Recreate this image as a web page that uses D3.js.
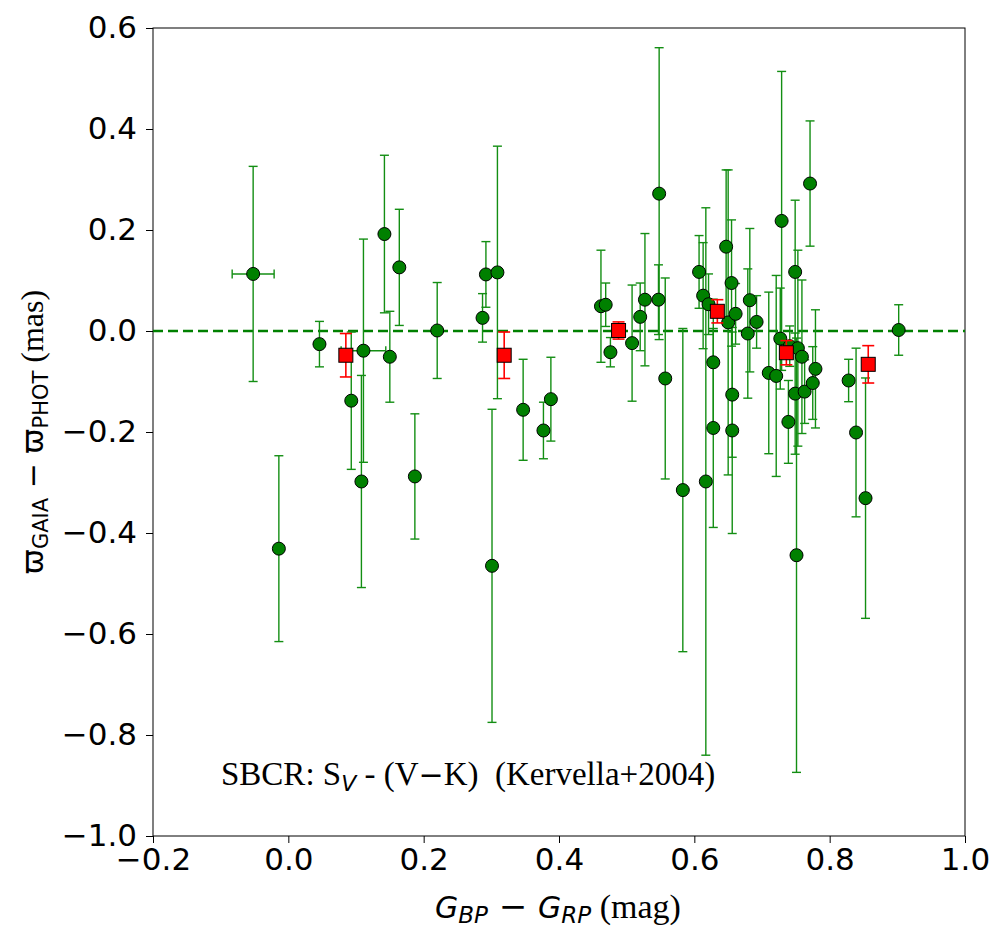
<!DOCTYPE html>
<html>
<head>
<meta charset="utf-8">
<script src="https://cdn.jsdelivr.net/npm/d3@7"></script>
<style>
  body { margin: 0; background: #fff; }
  svg { display: block; }
</style>
</head>
<body>
<svg id="chart"></svg>
<script>
// green points: colour index, parallax difference, error
const starX = [-0.052, -0.014, 0.046, 0.093, 0.108, 0.111, 0.142, 0.150, 0.164, 0.187,
  0.220, 0.287, 0.292, 0.301, 0.309, 0.347, 0.377, 0.388, 0.462, 0.469,
  0.476, 0.508, 0.520, 0.527, 0.547, 0.548, 0.557, 0.583, 0.607, 0.613,
  0.617, 0.621, 0.628, 0.628, 0.647, 0.650, 0.655, 0.656, 0.656, 0.661,
  0.679, 0.682, 0.692, 0.710, 0.721, 0.727, 0.729, 0.739, 0.741, 0.749,
  0.749, 0.751, 0.753, 0.759, 0.763, 0.771, 0.775, 0.779, 0.828, 0.839,
  0.853, 0.902];
const starY = [0.113, -0.431, -0.026, -0.138, -0.298, -0.039, 0.192, -0.051, 0.126, -0.288,
  0.001, 0.026, 0.112, -0.465, 0.116, -0.156, -0.197, -0.135, 0.049, 0.052,
  -0.042, -0.024, 0.028, 0.062, 0.062, 0.272, -0.094, -0.315, 0.117, 0.070,
  -0.298, 0.053, -0.062, -0.192, 0.167, 0.017, 0.095, -0.126, -0.197, 0.034,
  -0.005, 0.061, 0.018, -0.083, -0.089, -0.015, 0.218, -0.180, -0.030, 0.117,
  -0.124, -0.444, -0.034, -0.051, -0.120, 0.292, -0.103, -0.075, -0.098, -0.201,
  -0.331, 0.002];
const starYErr = [0.213, 0.184, 0.045, 0.136, 0.21, 0.221, 0.156, 0.09, 0.115, 0.124,
  0.095, 0.048, 0.065, 0.31, 0.25, 0.1, 0.056, 0.083, 0.111, 0.043,
  0.029, 0.115, 0.067, 0.131, 0.069, 0.289, 0.199, 0.32, 0.072, 0.105,
  0.542, 0.06, 0.125, 0.197, 0.152, 0.302, 0.125, 0.124, 0.204, 0.06,
  0.128, 0.142, 0.052, 0.16, 0.199, 0.1, 0.296, 0.082, 0.04, 0.142,
  0.12, 0.43, 0.194, 0.152, 0.063, 0.124, 0.072, 0.117, 0.042, 0.167,
  0.238, 0.05];
// only two stars have a visible colour error
const starXErr = {0: 0.031, 5: 0.033};

// red squares (binned means)
const binX = [0.085, 0.319, 0.488, 0.634, 0.736, 0.857];
const binY = [-0.048, -0.048, 0.001, 0.039, -0.043, -0.066];
const binErr = [0.043, 0.046, 0.017, 0.023, 0.024, 0.037];

const xTicks = [-0.2, 0.0, 0.2, 0.4, 0.6, 0.8, 1.0];
const yTicks = [-1.0, -0.8, -0.6, -0.4, -0.2, 0.0, 0.2, 0.4, 0.6];

const width = 1007, height = 944;
const mLeft = 153, mRight = 965, mTop = 28, mBottom = 836;

const svg = d3.select('#chart').attr('width', width).attr('height', height);

const x = d3.scaleLinear().domain([-0.2, 1.0]).range([mLeft, mRight]);
const y = d3.scaleLinear().domain([-1.0, 0.6]).range([mBottom, mTop]);

const fmt = d => d3.format('.1f')(d).replace('-', '\u2212');

// axes
const xAxis = svg.append('g')
  .attr('transform', `translate(0,${mBottom})`)
  .call(d3.axisBottom(x).tickValues(xTicks).tickFormat(fmt).tickSize(7).tickSizeOuter(0).tickPadding(5));
const yAxis = svg.append('g')
  .attr('transform', `translate(${mLeft},0)`)
  .call(d3.axisLeft(y).tickValues(yTicks).tickFormat(fmt).tickSize(7).tickSizeOuter(0).tickPadding(9));

[xAxis, yAxis].forEach(g => {
  g.select('.domain').remove();
  g.selectAll('line').attr('stroke', '#000').attr('stroke-width', 1);
  g.selectAll('text').attr('font-family', 'DejaVu Sans').attr('font-size', 31).attr('fill', '#000');
});

// frame
svg.append('rect')
  .attr('x', mLeft).attr('y', mTop)
  .attr('width', mRight - mLeft).attr('height', mBottom - mTop)
  .attr('fill', 'none').attr('stroke', '#000').attr('stroke-width', 1);

const plot = svg.append('g');

// zero line
plot.append('line')
  .attr('x1', x(-0.2)).attr('x2', x(1.0))
  .attr('y1', y(0)).attr('y2', y(0))
  .attr('stroke', '#008000').attr('stroke-width', 2.5)
  .attr('stroke-dasharray', '10,5');

const green = '#138e13';
const stars = starX.map((d, i) => ({x: d, y: starY[i], e: starYErr[i], xe: starXErr[i] || 0}));

// green error bars
const cap = 4.5;
stars.forEach(d => {
  const g = plot.append('g').attr('stroke', green).attr('stroke-width', 1.4);
  g.append('line').attr('x1', x(d.x)).attr('x2', x(d.x)).attr('y1', y(d.y - d.e)).attr('y2', y(d.y + d.e));
  g.append('line').attr('x1', x(d.x) - cap).attr('x2', x(d.x) + cap).attr('y1', y(d.y - d.e)).attr('y2', y(d.y - d.e));
  g.append('line').attr('x1', x(d.x) - cap).attr('x2', x(d.x) + cap).attr('y1', y(d.y + d.e)).attr('y2', y(d.y + d.e));
  if (d.xe) {
    g.append('line').attr('x1', x(d.x - d.xe)).attr('x2', x(d.x + d.xe)).attr('y1', y(d.y)).attr('y2', y(d.y));
    g.append('line').attr('x1', x(d.x - d.xe)).attr('x2', x(d.x - d.xe)).attr('y1', y(d.y) - cap).attr('y2', y(d.y) + cap);
    g.append('line').attr('x1', x(d.x + d.xe)).attr('x2', x(d.x + d.xe)).attr('y1', y(d.y) - cap).attr('y2', y(d.y) + cap);
  }
});

plot.selectAll('.star')
  .data(stars)
  .enter()
  .append('circle')
  .attr('class', 'star')
  .attr('cx', d => x(d.x))
  .attr('cy', d => y(d.y))
  .attr('r', 6.5)
  .attr('fill', '#008000')
  .attr('stroke', '#000')
  .attr('stroke-width', 1);

// red binned points
const bins = binX.map((d, i) => ({x: d, y: binY[i], e: binErr[i]}));
const rcap = 6;
bins.forEach(d => {
  const g = plot.append('g').attr('stroke', '#ff0000').attr('stroke-width', 1.6);
  g.append('line').attr('x1', x(d.x)).attr('x2', x(d.x)).attr('y1', y(d.y - d.e)).attr('y2', y(d.y + d.e));
  g.append('line').attr('x1', x(d.x) - rcap).attr('x2', x(d.x) + rcap).attr('y1', y(d.y - d.e)).attr('y2', y(d.y - d.e));
  g.append('line').attr('x1', x(d.x) - rcap).attr('x2', x(d.x) + rcap).attr('y1', y(d.y + d.e)).attr('y2', y(d.y + d.e));
});
plot.selectAll('.bin')
  .data(bins)
  .enter()
  .append('rect')
  .attr('class', 'bin')
  .attr('x', d => x(d.x) - 7)
  .attr('y', d => y(d.y) - 7)
  .attr('width', 14)
  .attr('height', 14)
  .attr('fill', '#ff0000')
  .attr('stroke', '#000')
  .attr('stroke-width', 1);

// annotation
const note = svg.append('text')
  .attr('x', 221).attr('y', 785)
  .style('white-space', 'pre')
  .attr('font-family', 'Liberation Serif').attr('font-size', 33).attr('fill', '#000');
note.append('tspan').text('SBCR: S');
note.append('tspan').attr('font-family', 'DejaVu Sans').attr('font-style', 'italic').attr('font-size', 22).attr('dy', 6).text('V');
note.append('tspan').attr('dy', -6).text(' - (V');
note.append('tspan').attr('font-family', 'DejaVu Sans').attr('font-size', 30).text('\u2212');
note.append('tspan').text('K)  (Kervella+2004)');

// x label
const xl = svg.append('text')
  .attr('x', 558).attr('y', 918)
  .style('white-space', 'pre')
  .attr('text-anchor', 'middle')
  .attr('font-family', 'DejaVu Sans').attr('font-size', 30).attr('fill', '#000');
xl.append('tspan').attr('font-style', 'italic').text('G');
xl.append('tspan').attr('font-style', 'italic').attr('font-size', 23).attr('dy', 5).text('BP');
xl.append('tspan').attr('dy', -5).attr('font-size', 34).text(' \u2212 ');
xl.append('tspan').attr('font-style', 'italic').text('G');
xl.append('tspan').attr('font-style', 'italic').attr('font-size', 23).attr('dy', 5).text('RP');
xl.append('tspan').attr('dy', -5).attr('font-family', 'Liberation Serif').attr('font-size', 34).text(' (mag)');

// y label
const yl = svg.append('text')
  .attr('transform', 'translate(43,432) rotate(-90)')
  .style('white-space', 'pre')
  .attr('text-anchor', 'middle')
  .attr('font-family', 'DejaVu Sans').attr('font-size', 30).attr('fill', '#000');
yl.append('tspan').text('\u03d6');
yl.append('tspan').attr('font-size', 21).attr('dy', 5).text('GAIA');
yl.append('tspan').attr('dy', -5).text(' \u2212 \u03d6');
yl.append('tspan').attr('font-size', 21).attr('dy', 5).text('PHOT');
yl.append('tspan').attr('dy', -5).attr('font-family', 'Liberation Serif').attr('font-size', 32).text(' (mas)');
</script>
</body>
</html>
